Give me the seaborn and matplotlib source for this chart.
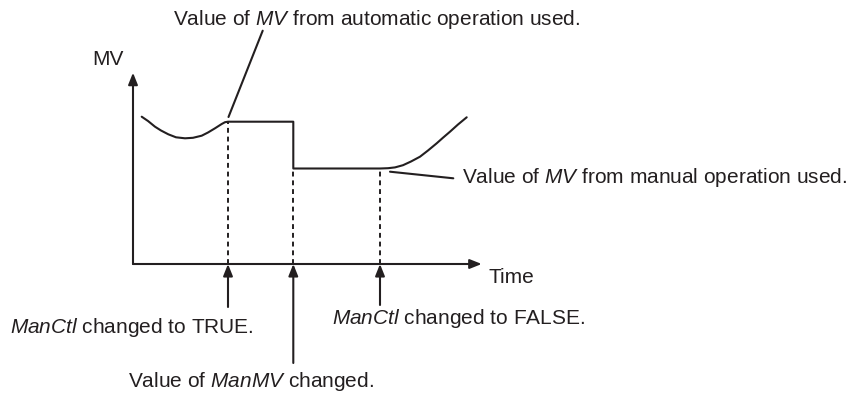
import numpy as np
import pandas as pd
import seaborn as sns
import matplotlib
matplotlib.use("Agg")
import matplotlib.pyplot as plt

# MV curve (time, MV in diagram units, origin at axes corner)
auto_t = [8.7, 15, 22, 28, 35.3, 43, 52, 60, 68.7, 75, 82, 88.7, 92, 95]
auto_mv = [147.3, 143, 137.3, 133.5, 129.7, 126.7, 125.7, 126.2, 128.3, 131.5, 135.7, 140, 141.8, 142.3]
return_t = [247, 255, 262, 270, 278, 287, 295, 303.7, 310, 317, 325, 333.7]
return_mv = [95.5, 95.8, 96.6, 98.8, 102.5, 107.3, 113.5, 120.7, 126.3, 132.3, 139.5, 146.7]

# events: ManCtl TRUE, ManMV changed, ManCtl FALSE
event_t = [95, 160.3, 247]
event_mv = [142.3, 95.5, 95.5]
mv_hold = 142.3
mv_manual = 95.5

curve = pd.DataFrame({
    "time": auto_t + [event_t[1], event_t[1]] + return_t,
    "MV": auto_mv + [mv_hold, mv_manual] + return_mv,
})

sns.set_style("white")
plt.rcParams['font.family'] = ['Liberation Sans', 'DejaVu Sans']
plt.rcParams['mathtext.fontset'] = 'custom'
plt.rcParams['mathtext.rm'] = 'Liberation Sans'
plt.rcParams['mathtext.it'] = 'Liberation Sans:italic'

ink = '#231f20'
fs = 15

fig = plt.figure(figsize=(8.53, 3.94), dpi=100)
ax = fig.add_axes([0, 0, 1, 1])
ax.set_xlim(-133, 720)
ax.set_ylim(-130, 264)
ax.axis('off')

# curve
sns.lineplot(data=curve, x="time", y="MV", ax=ax, color=ink, lw=1.5,
             sort=False, estimator=None)

# dashed guides
ax.vlines(event_t, 0, event_mv, colors=ink, lw=1.4, linestyles=(0, (2.5, 2)))

arrow = dict(arrowstyle='-|>,head_length=0.5,head_width=0.2', color=ink, lw=1.5,
             mutation_scale=14, shrinkA=0, shrinkB=0)

# axes arrows
ax.annotate('', xy=(0, 191.3), xytext=(0, 0), arrowprops=arrow)
ax.annotate('', xy=(348.7, 0), xytext=(0, 0), arrowprops=arrow)

# event arrows from below
tails = [-43, -99, -41]
for t, y0 in zip(event_t, tails):
    ax.annotate('', xy=(t, 0), xytext=(t, y0), arrowprops=arrow)

# leader lines
ax.plot([95.5, 129.7], [147, 233.3], color=ink, lw=1.5)
ax.plot([257, 320.3], [92.3, 85.7], color=ink, lw=1.5)

txt = dict(fontsize=fs, color=ink, ha='left', va='baseline')
ax.text(40, 239, r"Value of $\mathit{MV}$ from automatic operation used.", **txt)
ax.text(-41, 199, "MV", **txt)
ax.text(356, -19, "Time", **txt)
ax.text(328.7, 81, r"Value of $\mathit{MV}$ from manual operation used.", **txt)
ax.text(-123, -69, r"$\mathit{ManCtl}$ changed to TRUE.", **txt)
ax.text(198.7, -60, r"$\mathit{ManCtl}$ changed to FALSE.", **txt)
ax.text(-5, -123, r"Value of $\mathit{ManMV}$ changed.", **txt)

fig.savefig("out.png", dpi=100)
